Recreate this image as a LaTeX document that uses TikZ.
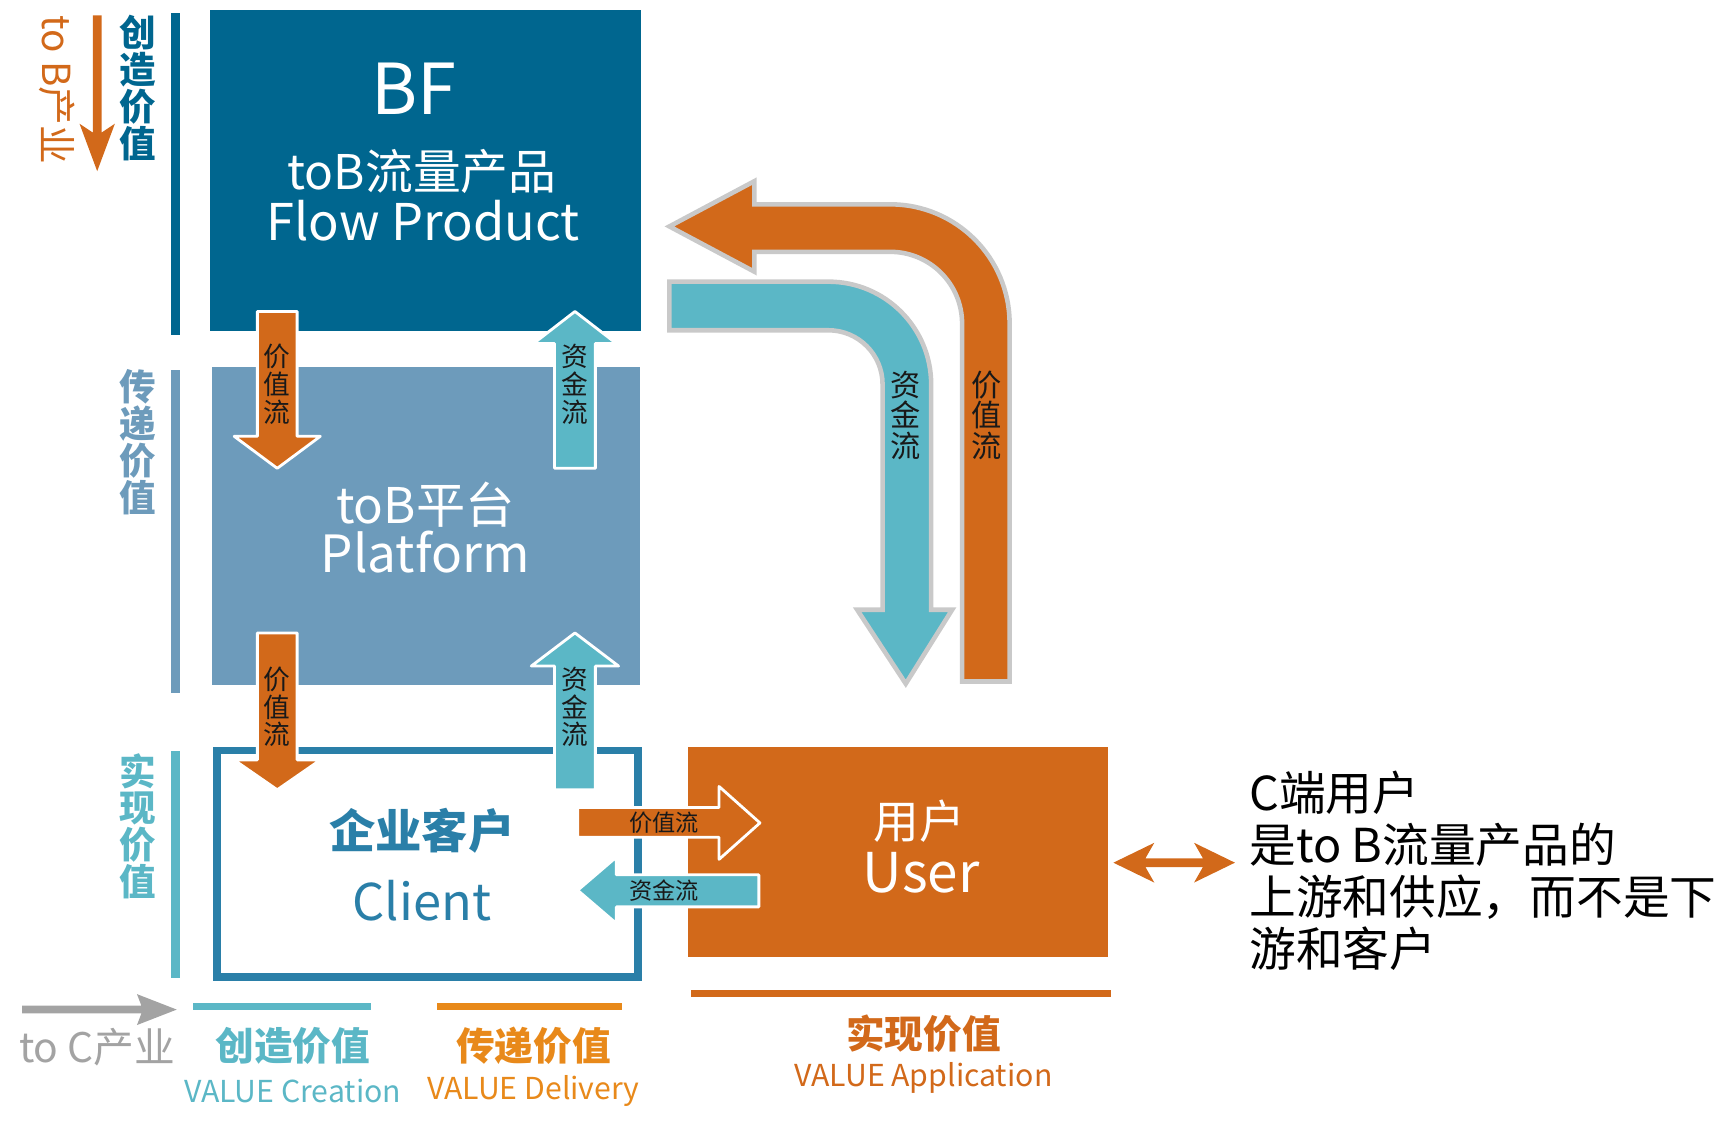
\documentclass[tikz,border=0pt]{standalone}
\usepackage{fontspec}
\setmainfont{Noto Sans CJK SC}
\definecolor{cDark}{HTML}{00668F}
\definecolor{cPlat}{HTML}{6D9BBB}
\definecolor{cClient}{HTML}{2A7FA8}
\definecolor{cTeal}{HTML}{5BB7C6}
\definecolor{cOrange}{HTML}{D2691A}
\definecolor{cOrangeL}{HTML}{E8891A}
\definecolor{cGrey}{HTML}{A3A3A3}
\definecolor{cEdge}{HTML}{C9C9C9}
\newcommand{\myfs}[2]{\fontsize{#1}{#2}\selectfont}
\def\U{0.011046cm}
\begin{document}
\begin{tikzpicture}[x=0.011046cm,y=-0.011046cm,
  box/.style={rectangle,inner sep=0pt,outer sep=0pt},
  lbl/.style={inner sep=0pt,outer sep=0pt,align=center},
  small/.style={lbl,text=black!90,font=\myfs{7.6}{7.9}},
  bigl/.style={lbl,text=black!90,font=\myfs{8.6}{8.7}},
  smallarrow/.style={draw=white,line width=0.8pt,line join=round},
  bentarrow/.style={draw=cEdge,line width=1.3pt,line join=miter},
  sidelbl/.style={lbl,font=\bfseries\myfs{10.4}{10.5}},
  bar/.style={line width=8*\U}]
\useasboundingbox (0,0) rectangle (1568,1029);

% ---------------- boxes ----------------
\node[box,fill=cDark,minimum width={390*\U},minimum height={291*\U}] (bf) at (385,154.5) {};
\node[box,fill=cPlat,minimum width={387*\U},minimum height={288*\U}] (plat) at (385.5,476) {};
\node[box,draw=cClient,line width={7*\U},fill=white,minimum width={381*\U},minimum height={205*\U}] (client) at (387,782) {};
\node[box,fill=cOrange,minimum width={380*\U},minimum height={190*\U}] (user) at (813,771) {};

% box texts
\node[lbl,text=white,font=\myfs{20}{22}] (bfA) at (375,80) {BF};
\node[lbl,text=white,font=\myfs{13.6}{15}] (bfB) at (382,155) {toB流量产品};
\node[lbl,text=white,font=\myfs{14.4}{16}] (bfC) at (383,200) {Flow Product};
\node[lbl,text=white,font=\myfs{14}{15}] (plA) at (385,457) {toB平台};
\node[lbl,text=white,font=\myfs{14.6}{16}] (plB) at (385,500) {Platform};
\node[lbl,text=cClient,font=\bfseries\myfs{13.2}{14}] (clA) at (382,752) {企业客户};
\node[lbl,text=cClient,font=\myfs{14.4}{16}] (clB) at (382,815) {Client};
\node[lbl,text=white,font=\myfs{13}{14}] (usA) at (832,743) {用户};
\node[lbl,text=white,font=\myfs{15.6}{17}] (usB) at (834,790) {User};

% ---------------- left side ----------------
\draw[bar,cDark] (159,12) coordinate (b1s) -- (159,303) coordinate (b1e);
\draw[bar,cPlat] (159,335) coordinate (b2s) -- (159,627) coordinate (b2e);
\draw[bar,cTeal] (159,680) coordinate (b3s) -- (159,885) coordinate (b3e);
\node[sidelbl,text=cDark] (s1) at (125,80) {创\\造\\价\\值};
\node[sidelbl,text=cPlat] (s2) at (125,400) {传\\递\\价\\值};
\node[sidelbl,text=cTeal] (s3) at (125,748) {实\\现\\价\\值};
\node[lbl,text=cOrange,font=\myfs{11}{12},rotate=-90] (toB) at (52,81) {to B产业};
\fill[cOrange] (84,14) -- (92,14) -- (92,120) -- (104,112) -- (88,155) -- (72,112) -- (84,120) -- cycle;

% ---------------- small arrows ----------------
\filldraw[smallarrow,fill=cOrange] (233,282) -- (269,282) -- (269,395) -- (290,395) -- (251,424) -- (212,395) -- (233,395) -- cycle;
\node[small] (v1) at (251,348) {价\\值\\流};
\filldraw[smallarrow,fill=cTeal] (502,424) -- (539,424) -- (539,311) -- (558,311) -- (520.5,282) -- (483,311) -- (502,311) -- cycle;
\node[small] (m1) at (520.5,348) {资\\金\\流};
\filldraw[smallarrow,fill=cOrange] (233,573) -- (269,573) -- (269,688) -- (290,688) -- (251,715) -- (212,688) -- (233,688) -- cycle;
\node[small] (v2) at (251,640) {价\\值\\流};
\filldraw[smallarrow,fill=cTeal] (502,715) -- (539,715) -- (539,603) -- (560,603) -- (520.5,573) -- (481,603) -- (502,603) -- cycle;
\node[small] (m2) at (520.5,640) {资\\金\\流};
\filldraw[smallarrow,fill=cOrange] (523,731) -- (651,731) -- (651,712) -- (688,745) -- (651,778) -- (651,758) -- (523,758) -- cycle;
\node[lbl,text=black!90,font=\myfs{6.6}{7}] (v3) at (601,745) {价值流};
\filldraw[smallarrow,fill=cTeal] (687,792) -- (558,792) -- (558,776) -- (523,806) -- (558,836) -- (558,821) -- (687,821) -- cycle;
\node[lbl,text=black!90,font=\myfs{6.6}{7}] (m3) at (601,806) {资金流};

% ---------------- bent arrows ----------------
\filldraw[bentarrow,fill=cOrange] (871,617) -- (871,293) arc[start angle=0,end angle=-90,radius=65]
  -- (683,228) -- (683,246) -- (606,205) -- (683,164) -- (683,185) -- (806,185)
  arc[start angle=-90,end angle=0,radius=108] -- (914,617) -- cycle;
\node[bigl] (v4) at (893,376) {价\\值\\流};
\filldraw[bentarrow,fill=cTeal] (606,255) -- (750,255) arc[start angle=-90,end angle=0,radius=93]
  -- (843,552) -- (862,552) -- (820,619) -- (776,552) -- (799,552) -- (799,348)
  arc[start angle=0,end angle=-90,radius=49] -- (606,299) -- cycle;
\node[bigl] (m4) at (820,376) {资\\金\\流};

% ---------------- bottom ----------------
\fill[cGrey] (20,910.5) -- (128,910.5) -- (124,900) -- (160,914) -- (124,928) -- (128,917.5) -- (20,917.5) -- cycle;
\node[lbl,text=cGrey,font=\myfs{11.6}{12}] (toC) at (88,948) {to C产业};
\draw[line width=6*\U,cTeal] (175,911) coordinate (l1s) -- (336,911) coordinate (l1e);
\draw[line width=6*\U,cOrangeL] (396,911) coordinate (l2s) -- (563,911) coordinate (l2e);
\draw[line width=7*\U,cOrange] (626,899.5) coordinate (l3s) -- (1006,899.5) coordinate (l3e);
\node[lbl,text=cTeal,font=\bfseries\myfs{11}{12}] (cA) at (265,947) {创造价值};
\node[lbl,text=cTeal,font=\myfs{8.6}{9}] (cB) at (265,988) {VALUE Creation};
\node[lbl,text=cOrangeL,font=\bfseries\myfs{11}{12}] (dA) at (483,947) {传递价值};
\node[lbl,text=cOrangeL,font=\myfs{8.6}{9}] (dB) at (483,988) {VALUE Delivery};
\node[lbl,text=cOrange,font=\bfseries\myfs{11}{12}] (aA) at (836,936) {实现价值};
\node[lbl,text=cOrange,font=\myfs{8.6}{9}] (aB) at (836,976) {VALUE Application};

% ---------------- right ----------------
\fill[cOrange] (1008,781) -- (1045,763) -- (1037,777) -- (1089,777) -- (1081,763) -- (1118,781)
  -- (1081,799) -- (1089,785) -- (1037,785) -- (1045,799) -- cycle;
\node[lbl,align=left,anchor=west,text=black,font=\myfs{13.3}{14.8}] (note) at (1131,788)
  {C端用户\\是to B流量产品的\\上游和供应，而不是下\\游和客户};
\end{tikzpicture}
\end{document}
